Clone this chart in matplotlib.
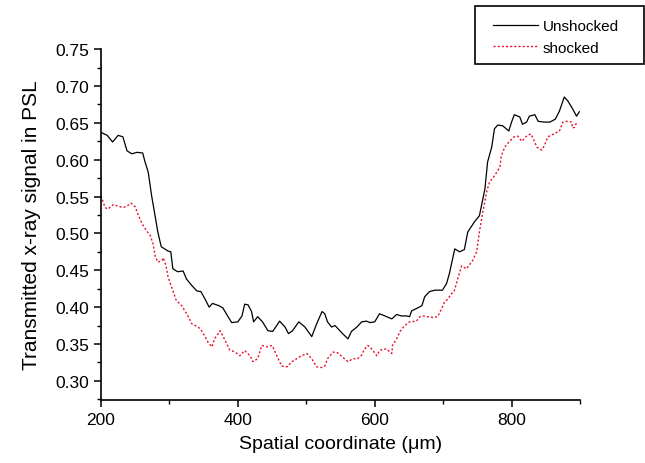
import numpy
import matplotlib
matplotlib.use('Agg')
import matplotlib.pyplot as plt
from matplotlib.ticker import MultipleLocator, FormatStrFormatter
from matplotlib.patches import Rectangle

# values
x_unshocked = [200, 209, 217, 225, 232, 238, 245, 253, 261, 264, 269, 274, 279, 283, 288, 293, 298, 302,
               305, 312, 320, 325, 333, 340, 346, 352, 358, 363, 372, 378, 385, 391, 400, 406, 410, 415,
               420, 423, 429, 436, 444, 451, 461, 469, 474, 480, 489, 498, 508, 515, 523, 527, 531, 537,
               542, 546, 553, 561, 566, 574, 581, 588, 593, 600, 607, 615, 625, 632, 639, 647, 651, 654,
               661, 669, 673, 680, 688, 699, 705, 709, 717, 724, 731, 736, 746, 753, 761, 765, 771, 775,
               780, 787, 796, 800, 804, 812, 816, 822, 826, 834, 839, 848, 856, 864, 870, 877, 882, 888,
               895, 899]
y_unshocked = [0.637, 0.633, 0.624, 0.633, 0.631, 0.612, 0.608, 0.610, 0.609, 0.598, 0.583, 0.551, 0.524,
               0.502, 0.482, 0.479, 0.476, 0.475, 0.452, 0.448, 0.449, 0.438, 0.429, 0.422, 0.421, 0.411,
               0.400, 0.405, 0.402, 0.399, 0.388, 0.379, 0.380, 0.388, 0.404, 0.403, 0.394, 0.380, 0.387,
               0.380, 0.368, 0.367, 0.381, 0.373, 0.364, 0.368, 0.380, 0.373, 0.360, 0.377, 0.394, 0.391,
               0.380, 0.373, 0.375, 0.371, 0.364, 0.357, 0.367, 0.373, 0.380, 0.381, 0.379, 0.380, 0.391,
               0.388, 0.384, 0.390, 0.388, 0.388, 0.387, 0.395, 0.398, 0.402, 0.414, 0.421, 0.423, 0.423,
               0.432, 0.445, 0.479, 0.475, 0.478, 0.502, 0.516, 0.524, 0.560, 0.597, 0.617, 0.642, 0.647,
               0.646, 0.639, 0.651, 0.661, 0.658, 0.648, 0.651, 0.659, 0.661, 0.652, 0.651, 0.651, 0.655,
               0.666, 0.685, 0.680, 0.671, 0.659, 0.665]

x_shocked = [200, 203, 206, 210, 218, 225, 232, 238, 244, 250, 254, 260, 267, 272, 276, 279, 283, 289,
             291, 295, 298, 304, 310, 318, 327, 333, 342, 347, 352, 356, 362, 366, 374, 378, 384, 388,
             396, 403, 410, 418, 422, 429, 435, 442, 450, 457, 464, 472, 479, 486, 493, 501, 508, 515,
             523, 527, 531, 539, 546, 552, 561, 568, 575, 581, 585, 590, 596, 603, 607, 612, 618, 622,
             625, 626, 632, 637, 644, 651, 661, 666, 670, 677, 685, 692, 698, 702, 707, 712, 716, 720,
             727, 734, 743, 749, 753, 758, 764, 768, 775, 783, 785, 790, 797, 804, 809, 815, 822, 828,
             832, 837, 844, 848, 853, 862, 870, 875, 880, 888, 889, 892, 896]
y_shocked = [0.551, 0.543, 0.535, 0.533, 0.539, 0.537, 0.535, 0.537, 0.541, 0.536, 0.526, 0.513, 0.503,
             0.497, 0.486, 0.470, 0.461, 0.463, 0.467, 0.456, 0.441, 0.425, 0.409, 0.402, 0.388, 0.377,
             0.373, 0.368, 0.360, 0.353, 0.346, 0.357, 0.368, 0.361, 0.350, 0.342, 0.339, 0.334, 0.341,
             0.334, 0.326, 0.330, 0.348, 0.346, 0.348, 0.334, 0.320, 0.319, 0.326, 0.330, 0.334, 0.337,
             0.330, 0.319, 0.318, 0.320, 0.330, 0.339, 0.338, 0.333, 0.326, 0.330, 0.330, 0.335, 0.343,
             0.348, 0.343, 0.334, 0.341, 0.343, 0.343, 0.339, 0.337, 0.348, 0.357, 0.367, 0.375, 0.380,
             0.381, 0.387, 0.388, 0.387, 0.386, 0.387, 0.398, 0.407, 0.411, 0.418, 0.421, 0.434, 0.456,
             0.452, 0.463, 0.475, 0.502, 0.529, 0.558, 0.570, 0.578, 0.590, 0.605, 0.617, 0.625, 0.631,
             0.632, 0.625, 0.632, 0.635, 0.628, 0.617, 0.613, 0.619, 0.631, 0.635, 0.639, 0.651, 0.652,
             0.651, 0.643, 0.644, 0.652]

plt.rcParams['font.family'] = ['Liberation Sans', 'DejaVu Sans']

fig = plt.figure(figsize=(6.45, 4.64), dpi=100)
ax = fig.add_axes([0.1566, 0.1358, 0.7426, 0.7562])

ax.plot(x_unshocked, y_unshocked, color='black', lw=0.9, label='Unshocked')
ax.plot(x_shocked, y_shocked, color='#e8102e', lw=1.0, linestyle=(0, (1.5, 1.5)), label='shocked')

ax.set_xlim(200, 900)
ax.set_ylim(0.274, 0.75)
ax.xaxis.set_major_locator(MultipleLocator(200))
ax.xaxis.set_minor_locator(MultipleLocator(100))
ax.yaxis.set_major_locator(MultipleLocator(0.05))
ax.yaxis.set_minor_locator(MultipleLocator(0.025))
ax.yaxis.set_major_formatter(FormatStrFormatter('%.2f'))

ax.spines['top'].set_visible(False)
ax.spines['right'].set_visible(False)
ax.spines['left'].set_linewidth(1.2)
ax.spines['bottom'].set_linewidth(1.2)
ax.tick_params(which='major', direction='out', length=5, width=1.1, labelsize=12.5)
ax.tick_params(which='minor', direction='out', length=3, width=1.0)

ax.set_xlabel('Spatial coordinate (\u03bcm)', fontsize=14, labelpad=6)
ax.set_ylabel('Transmitted x-ray signal in PSL', fontsize=15, labelpad=10)

# legend box drawn by hand, it runs to the right edge of the picture
fig.patches.append(Rectangle((475 / 645, 1 - 65 / 464), 169 / 645, 58 / 464,
                             transform=fig.transFigure, fill=False, edgecolor='black', lw=1.2))
leg = fig.legend(loc='upper left', bbox_to_anchor=(0.74, 0.99), fontsize=11,
                 handlelength=3.0, handletextpad=0.3, borderpad=0.5, labelspacing=0.5,
                 frameon=False)

fig.savefig('out.png', dpi=100)
